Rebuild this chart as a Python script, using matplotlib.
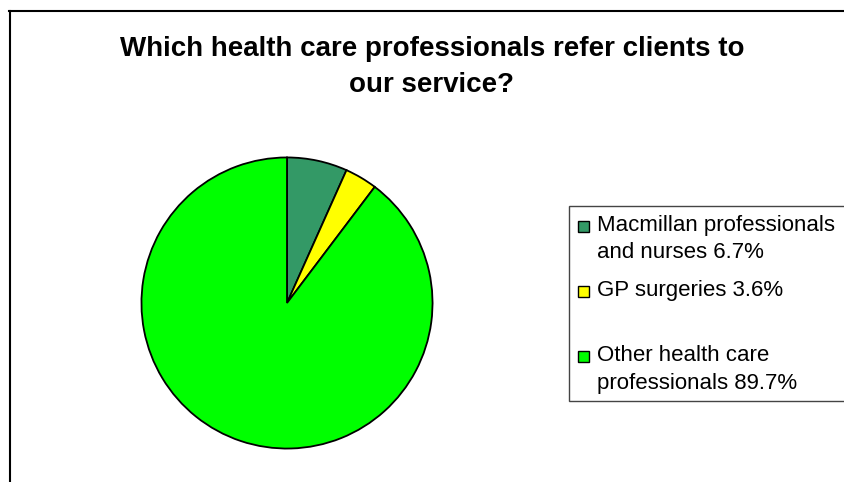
import matplotlib.pyplot as plt
from matplotlib.patches import Rectangle
from matplotlib.lines import Line2D

# data
labels = ['Macmillan professionals\nand nurses 6.7%',
          'GP surgeries 3.6%',
          'Other health care\nprofessionals 89.7%']
shares = [6.7, 3.6, 89.7]
colors = ['#339966', '#FFFF00', '#00FF00']
title_lines = ['Which health care professionals refer clients to',
               'our service?']

W, H = 844, 482
plt.rcParams['font.family'] = ['Liberation Sans', 'DejaVu Sans']

fig = plt.figure(figsize=(W / 100, H / 100), dpi=100)


def fx(x):
    return x / W


def fy(y):
    return 1 - y / H


# outer chart border (left and top only visible)
fig.add_artist(Line2D([fx(9.5), fx(9.5)], [fy(11), fy(H + 5)], color='black', lw=1.5))
fig.add_artist(Line2D([fx(9), fx(W + 5)], [fy(11), fy(11)], color='black', lw=1.5))

# title
fig.text(fx(432), fy(56), title_lines[0], ha='center', va='baseline',
         fontsize=20, fontweight='bold')
fig.text(fx(432), fy(92), title_lines[1], ha='center', va='baseline',
         fontsize=20, fontweight='bold')

# pie
cx, cy, r = 287, 303, 147
ax = fig.add_axes([fx(cx - r), fy(cy + r), 2 * r / W, 2 * r / H])
ax.pie(shares, colors=colors, startangle=90, counterclock=False,
       wedgeprops=dict(edgecolor='black', linewidth=1.3))
ax.set_xlim(-1.01, 1.01)
ax.set_ylim(-1.01, 1.01)
ax.set_aspect('equal')
ax.axis('off')

# legend box
fig.add_artist(Rectangle((fx(568.5), fy(401)), fx(300), 195 / H,
                         transform=fig.transFigure, facecolor='white',
                         edgecolor='#444444', lw=1.0))

first_baselines = [231, 296, 361]
line_gap = 27.5
for lab, col, yb in zip(labels, colors, first_baselines):
    fig.add_artist(Rectangle((fx(577.5), fy(yb + 1)), 11 / W, 11 / H,
                             transform=fig.transFigure, facecolor=col,
                             edgecolor='black', lw=1.0))
    for i, part in enumerate(lab.split('\n')):
        fig.text(fx(597), fy(yb + i * line_gap), part, ha='left',
                 va='baseline', fontsize=16)

fig.savefig('out.png', dpi=100)
